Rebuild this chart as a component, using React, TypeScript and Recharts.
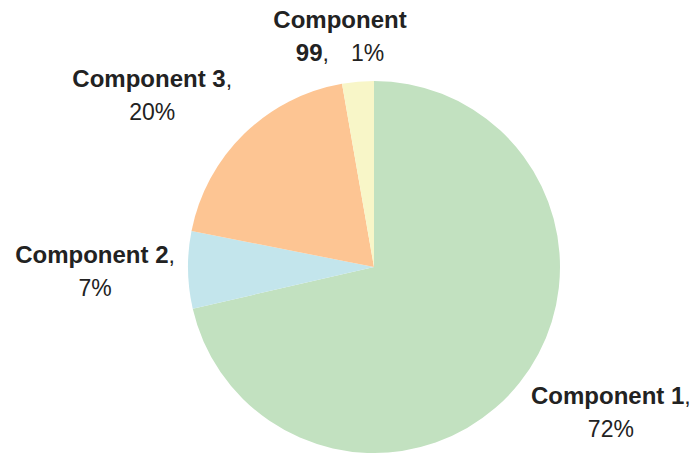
import { PieChart, Pie, Cell } from "recharts";

const components = ["Component 1", "Component 2", "Component 3", "Component 99"];
const shares = [71.4, 6.7, 19.15, 2.75];
const shareLabels = ["72%", "7%", "20%", "1%"];
const sliceColors = ["#c2e1c0", "#c3e5ec", "#fdc593", "#f8f6c8"];
// labels that break after the first word
const labelBreaks = [false, false, false, true];
// small label nudges (px) on top of the elliptical placement
const labelNudgeX = [10, 11, -19, -9];
const labelNudgeY = [-2, 0, -3, 4];

const chartData = components.map((name, i) => ({ name, value: shares[i] }));

const RADIAN = Math.PI / 180;

function renderLabel(props: any) {
  const { cx, cy, midAngle, index } = props;
  const x = cx + 290 * Math.cos(-midAngle * RADIAN) + labelNudgeX[index];
  const y = cy + 236 * Math.sin(-midAngle * RADIAN) + labelNudgeY[index];
  const name = components[index];
  const pct = shareLabels[index];
  const common = {
    fontFamily: "'Liberation Sans', Arial, sans-serif",
    fill: "#222",
    textAnchor: "middle" as const,
  };
  if (labelBreaks[index]) {
    const [first, ...rest] = name.split(" ");
    return (
      <text x={x} y={y} {...common}>
        <tspan x={x} dy={-8} fontSize={24} fontWeight="bold">{first}</tspan>
        <tspan x={x} dy={33} fontSize={24} fontWeight="bold">{rest.join(" ")}</tspan>
        <tspan fontSize={23}>,</tspan>
        <tspan fontSize={23} dx={22}>{pct}</tspan>
      </text>
    );
  }
  return (
    <text x={x} y={y} {...common}>
      <tspan x={x} dy={-8} fontSize={24} fontWeight="bold">{name}</tspan>
      <tspan fontSize={23}>,</tspan>
      <tspan x={x} dy={33} fontSize={23}>{pct}</tspan>
    </text>
  );
}

export default function App() {
  return (
    <div style={{ position: "absolute", left: 0, top: 0, width: 693, height: 453, background: "#fff" }}>
      <PieChart width={693} height={453} margin={{ top: 0, right: 0, bottom: 0, left: 0 }}>
        <Pie
          data={chartData}
          dataKey="value"
          nameKey="name"
          cx={374}
          cy={267}
          outerRadius={186}
          startAngle={90}
          endAngle={-270}
          stroke="none"
          label={renderLabel}
          labelLine={false}
          isAnimationActive={false}
        >
          {chartData.map((entry, i) => (
            <Cell key={entry.name} fill={sliceColors[i]} />
          ))}
        </Pie>
      </PieChart>
    </div>
  );
}
